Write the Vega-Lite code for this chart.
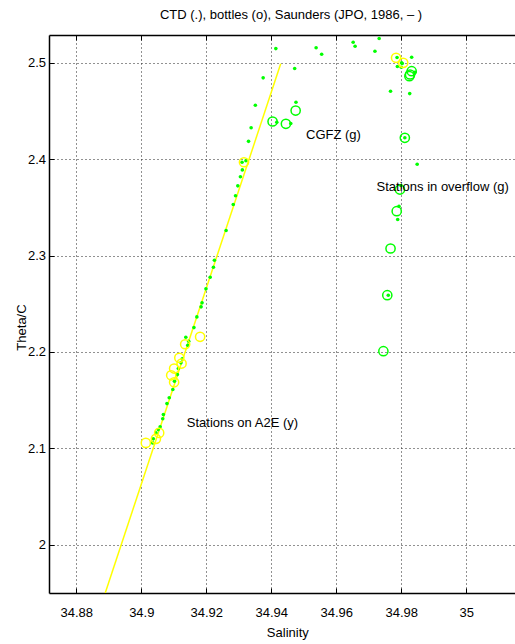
{
  "$schema": "https://vega.github.io/schema/vega-lite/v6.json",
  "autosize": {"type": "none"},
  "padding": {"left": 49, "top": 35, "right": 0, "bottom": 51},
  "width": 466,
  "height": 558,
  "background": "white",
  "title": {
    "text": "CTD (.), bottles (o), Saunders (JPO, 1986, – )",
    "anchor": "middle",
    "dx": 9,
    "offset": 3,
    "baseline": "alphabetic",
    "font": "Liberation Sans, Arial, sans-serif",
    "fontSize": 13,
    "fontWeight": "normal",
    "color": "black"
  },
  "config": {
    "view": {"stroke": null},
    "font": "Liberation Sans, Arial, sans-serif",
    "axis": {
      "labelFont": "Liberation Sans, Arial, sans-serif",
      "titleFont": "Liberation Sans, Arial, sans-serif",
      "labelFontSize": 13,
      "titleFontSize": 13,
      "titleFontWeight": "normal",
      "labelColor": "black",
      "titleColor": "black",
      "domainColor": "black",
      "domainWidth": 1.5,
      "tickColor": "black",
      "tickWidth": 1,
      "tickSize": -5,
      "gridColor": "#222",
      "gridDash": [1, 3],
      "gridWidth": 1,
      "gridOpacity": 1
    }
  },
  "datasets": {
    "saunders": [
      {"salinity": 34.8889, "theta": 1.9497},
      {"salinity": 34.9429, "theta": 2.499}
    ],
    "ctd": [
      {"salinity": 34.9035, "theta": 2.1055},
      {"salinity": 34.9037, "theta": 2.1097},
      {"salinity": 34.9045, "theta": 2.1159},
      {"salinity": 34.9052, "theta": 2.1193},
      {"salinity": 34.9058, "theta": 2.1222},
      {"salinity": 34.9066, "theta": 2.1305},
      {"salinity": 34.9068, "theta": 2.1349},
      {"salinity": 34.9079, "theta": 2.1463},
      {"salinity": 34.9086, "theta": 2.1523},
      {"salinity": 34.9097, "theta": 2.1609},
      {"salinity": 34.9102, "theta": 2.1695},
      {"salinity": 34.9111, "theta": 2.1764},
      {"salinity": 34.9114, "theta": 2.1827},
      {"salinity": 34.9122, "theta": 2.1886},
      {"salinity": 34.9126, "theta": 2.1927},
      {"salinity": 34.9143, "theta": 2.2069},
      {"salinity": 34.9146, "theta": 2.211},
      {"salinity": 34.9137, "theta": 2.2152},
      {"salinity": 34.9162, "theta": 2.2252},
      {"salinity": 34.9171, "theta": 2.2363},
      {"salinity": 34.9184, "theta": 2.2467},
      {"salinity": 34.9187, "theta": 2.2509},
      {"salinity": 34.9199, "theta": 2.2654},
      {"salinity": 34.9212, "theta": 2.2774},
      {"salinity": 34.9222, "theta": 2.2878},
      {"salinity": 34.9225, "theta": 2.2951},
      {"salinity": 34.9261, "theta": 2.3259},
      {"salinity": 34.9283, "theta": 2.3529},
      {"salinity": 34.929, "theta": 2.362},
      {"salinity": 34.9297, "theta": 2.3723},
      {"salinity": 34.9305, "theta": 2.3817},
      {"salinity": 34.9311, "theta": 2.3889},
      {"salinity": 34.931, "theta": 2.3968},
      {"salinity": 34.9322, "theta": 2.3984},
      {"salinity": 34.933, "theta": 2.4185},
      {"salinity": 34.9338, "theta": 2.4326},
      {"salinity": 34.9351, "theta": 2.456},
      {"salinity": 34.9375, "theta": 2.4844},
      {"salinity": 34.9414, "theta": 2.5148},
      {"salinity": 34.9417, "theta": 2.4383},
      {"salinity": 34.946, "theta": 2.437},
      {"salinity": 34.9476, "theta": 2.4591},
      {"salinity": 34.9472, "theta": 2.4941},
      {"salinity": 34.9538, "theta": 2.5156},
      {"salinity": 34.9555, "theta": 2.5089},
      {"salinity": 34.9652, "theta": 2.5214},
      {"salinity": 34.9658, "theta": 2.5172},
      {"salinity": 34.9732, "theta": 2.5252},
      {"salinity": 34.9719, "theta": 2.512},
      {"salinity": 34.9767, "theta": 2.4705},
      {"salinity": 34.9787, "theta": 2.5055},
      {"salinity": 34.9788, "theta": 2.4962},
      {"salinity": 34.9801, "theta": 2.5},
      {"salinity": 34.98, "theta": 2.4954},
      {"salinity": 34.9803, "theta": 2.4993},
      {"salinity": 34.9832, "theta": 2.5058},
      {"salinity": 34.9842, "theta": 2.4902},
      {"salinity": 34.9826, "theta": 2.4681},
      {"salinity": 34.9811, "theta": 2.4222},
      {"salinity": 34.9849, "theta": 2.3947},
      {"salinity": 34.9799, "theta": 2.3727},
      {"salinity": 34.9793, "theta": 2.3512},
      {"salinity": 34.9789, "theta": 2.3374},
      {"salinity": 34.976, "theta": 2.2588}
    ],
    "bottles_a2e": [
      {"salinity": 34.9014, "theta": 2.1055},
      {"salinity": 34.9045, "theta": 2.1097},
      {"salinity": 34.9055, "theta": 2.1159},
      {"salinity": 34.9101, "theta": 2.1684},
      {"salinity": 34.9092, "theta": 2.1757},
      {"salinity": 34.9101, "theta": 2.1827},
      {"salinity": 34.9124, "theta": 2.1879},
      {"salinity": 34.9117, "theta": 2.1938},
      {"salinity": 34.9135, "theta": 2.2079},
      {"salinity": 34.9181, "theta": 2.2156},
      {"salinity": 34.9316, "theta": 2.3968},
      {"salinity": 34.9784, "theta": 2.5052},
      {"salinity": 34.9806, "theta": 2.5}
    ],
    "bottles_overflow": [
      {"salinity": 34.9404, "theta": 2.4391},
      {"salinity": 34.9445, "theta": 2.4367},
      {"salinity": 34.9475, "theta": 2.4505},
      {"salinity": 34.9832, "theta": 2.4913},
      {"salinity": 34.9827, "theta": 2.4879},
      {"salinity": 34.9825, "theta": 2.4861},
      {"salinity": 34.9811, "theta": 2.4222},
      {"salinity": 34.9796, "theta": 2.3685},
      {"salinity": 34.9786, "theta": 2.346},
      {"salinity": 34.9767, "theta": 2.3073},
      {"salinity": 34.9757, "theta": 2.2588},
      {"salinity": 34.9745, "theta": 2.2007}
    ],
    "notes": [
      {"salinity": 34.9507, "theta": 2.4253, "note": "CGFZ (g)"},
      {"salinity": 34.9724, "theta": 2.3716, "note": "Stations in overflow (g)"},
      {"salinity": 34.914, "theta": 2.1266, "note": "Stations on A2E (y)"}
    ]
  },
  "resolve": {"axis": {"x": "independent"}},
  "encoding": {
    "y": {
      "field": "theta", "type": "quantitative",
      "scale": {"domain": [1.9497, 2.5289], "nice": false, "zero": false},
      "axis": {
        "orient": "left",
        "title": "Theta/C",
        "values": [2, 2.1, 2.2, 2.3, 2.4, 2.5],
        "format": "~g",
        "grid": true,
        "labelPadding": 8.5,
        "titleX": -24,
        "titleY": 292,
        "titleAngle": 270,
        "titleBaseline": "alphabetic",
        "titleAlign": "center"
      }
    }
  },
  "layer": [
    {
      "data": {"name": "saunders"},
      "mark": {"type": "line", "color": "#ffff00", "strokeWidth": 1.5, "clip": true},
      "encoding": {
        "x": {
          "field": "salinity", "type": "quantitative",
          "scale": {"domain": [34.8716, 35.015], "nice": false, "zero": false},
          "axis": {
            "orient": "bottom",
            "title": "Salinity",
            "values": [34.88, 34.9, 34.92, 34.94, 34.96, 34.98, 35],
            "format": "~g",
            "grid": true,
            "labelPadding": 28.5,
            "labelBaseline": "alphabetic",
            "titleX": 238.3,
            "titleY": 43.5,
            "titleBaseline": "alphabetic",
            "titleAlign": "center"
          }
        }
      }
    },
    {
      "data": {"name": "ctd"},
      "mark": {"type": "point", "shape": "circle", "filled": true, "size": 13, "color": "#00ff00", "opacity": 1},
      "encoding": {
        "x": {
          "field": "salinity", "type": "quantitative",
          "axis": {
            "orient": "top",
            "title": null,
            "values": [34.88, 34.9, 34.92, 34.94, 34.96, 34.98, 35],
            "labels": false,
            "grid": false
          }
        }
      }
    },
    {
      "data": {"name": "bottles_a2e"},
      "mark": {"type": "point", "shape": "circle", "filled": false, "size": 85, "strokeWidth": 1.5, "color": "#ffff00", "opacity": 1},
      "encoding": {
        "x": {"field": "salinity", "type": "quantitative", "axis": null}
      }
    },
    {
      "data": {"name": "bottles_overflow"},
      "mark": {"type": "point", "shape": "circle", "filled": false, "size": 85, "strokeWidth": 1.5, "color": "#00ff00", "opacity": 1},
      "encoding": {
        "x": {"field": "salinity", "type": "quantitative", "axis": null}
      }
    },
    {
      "data": {"name": "notes"},
      "mark": {
        "type": "text", "align": "left", "baseline": "middle",
        "font": "Liberation Sans, Arial, sans-serif",
        "fontSize": 13, "color": "black"
      },
      "encoding": {
        "x": {"field": "salinity", "type": "quantitative", "axis": null},
        "text": {"field": "note"}
      }
    }
  ]
}
